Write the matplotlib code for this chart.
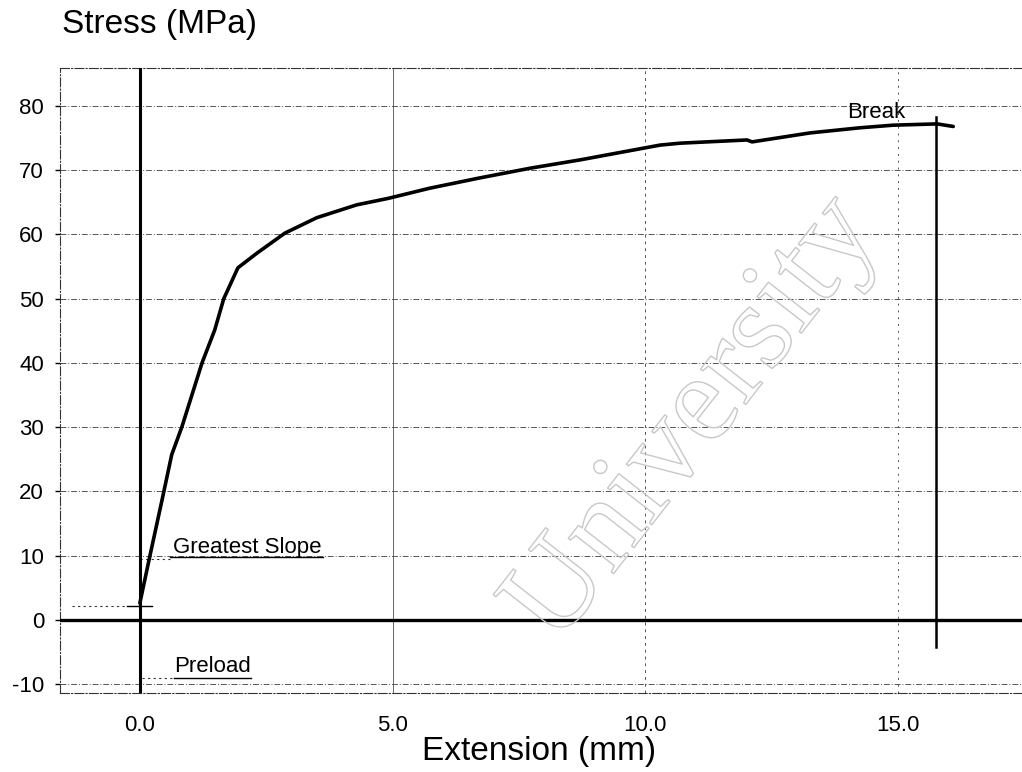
import matplotlib.pyplot as plt
import matplotlib.patheffects as pe

plt.rcParams['font.family'] = ['Liberation Sans', 'DejaVu Sans']
plt.rcParams['axes.unicode_minus'] = False

# Stress-extension curve
extension = [0.0, 0.20, 0.44, 0.63, 0.83, 1.23, 1.48, 1.66, 1.94, 2.32, 2.87,
             3.50, 4.29, 4.91, 5.74, 6.73, 7.72, 8.71, 10.29, 10.69, 12.01,
             12.11, 13.26, 14.25, 14.90, 15.77, 16.09]
stress = [2.6, 10.0, 18.7, 25.7, 30.0, 40.0, 45.1, 50.0, 54.8, 57.1, 60.2,
          62.6, 64.6, 65.6, 67.2, 68.8, 70.3, 71.6, 73.9, 74.2, 74.7,
          74.4, 75.8, 76.6, 77.0, 77.2, 76.8]

x_ticks = [0, 5, 10, 15]
y_ticks = [-10, 0, 10, 20, 30, 40, 50, 60, 70, 80]

# break marker and markers at the start of the curve
break_ext = 15.75
break_span = [-4.2, 78.3]
slope_level = 2.2
greatest_slope_level = 9.8
preload_level = -9.0

fig = plt.figure(figsize=(10.22, 7.72), dpi=100)
ax = fig.add_axes([0.0587, 0.1023, 0.9413, 0.8096])
ax.set_xlim(-1.58, 17.45)
ax.set_ylim(-11.4, 85.9)

ax.set_xticks(x_ticks)
ax.set_xticklabels([f"{t:.1f}" for t in x_ticks])
ax.set_yticks(y_ticks)
ax.set_yticklabels([str(t) for t in y_ticks])
ax.tick_params(axis='y', labelsize=16, length=3.5, width=1, pad=8)
ax.tick_params(axis='x', labelsize=16, length=0, pad=16)

# grid like the scanned printout
ax.grid(True, color='#555', lw=0.7, linestyle=(0, (6, 2, 1, 2)))
xgrid = ax.xaxis.get_gridlines()
xgrid[1].set_linestyle('-')
xgrid[1].set_color('#666')
xgrid[2].set_linestyle((0, (3, 4)))
xgrid[3].set_linestyle((0, (2, 5)))
ax.set_axisbelow(True)

ax.spines['right'].set_visible(False)
for side in ['left', 'top', 'bottom']:
    ax.spines[side].set_linewidth(0.8)
    ax.spines[side].set_color('#333')
    ax.spines[side].set_linestyle((0, (8, 2, 1, 2)))

# heavy zero lines
ax.axhline(0, color='black', lw=2.4, zorder=4)
ax.axvline(0, color='black', lw=2.2, zorder=4)

# the curve
ax.plot(extension, stress, color='black', lw=2.6, solid_capstyle='round',
        solid_joinstyle='round', zorder=5)

# break line
ax.plot([break_ext, break_ext], break_span, color='black', lw=1.8, zorder=5)
ax.text(14.57, 78.9, "Break", fontsize=16, ha='center', va='center')

# small marks near the origin
ax.plot([-1.35, -0.26], [slope_level, slope_level], color='#333', lw=0.8,
        linestyle=(0, (2, 3)))
ax.plot([-0.26, 0.24], [slope_level, slope_level], color='black', lw=1.0)

ax.text(0.66, 11.3, "Greatest Slope", fontsize=16, va='center')
ax.plot([0.0, 0.59], [greatest_slope_level - 0.3] * 2, color='#333', lw=0.8,
        linestyle=(0, (2, 3)))
ax.plot([0.59, 3.62], [greatest_slope_level] * 2, color='black', lw=1.0)

ax.text(0.68, -7.2, "Preload", fontsize=16, va='center')
ax.plot([0.04, 0.67], [preload_level] * 2, color='#333', lw=0.8,
        linestyle=(0, (2, 3)))
ax.plot([0.67, 2.2], [preload_level] * 2, color='black', lw=1.0)

# axis labels
ax.set_ylabel("Stress (MPa)", fontsize=24, rotation=0, ha='left', va='center')
ax.yaxis.set_label_coords(0.002, 1.069)
ax.set_xlabel("Extension (mm)", fontsize=24, va='center')
ax.xaxis.set_label_coords(0.498, -0.093)

# faint outlined watermark
fig.text(0.680, 0.455, "University", fontsize=90, family='Liberation Serif',
         rotation=52, ha='center', va='center', color='none', zorder=0,
         path_effects=[pe.Stroke(linewidth=1.0, foreground='#c8c8c8')])

plt.savefig('out.png', dpi=100)
